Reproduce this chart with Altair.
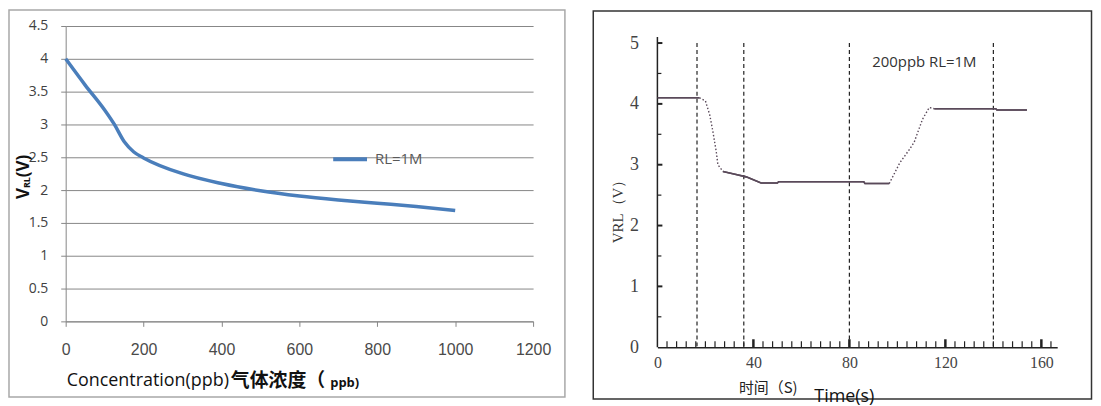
import altair as alt
import pandas as pd

# ---------------- Left panel data ----------------
conc_ppb = [0, 50, 100, 125, 150, 175, 200, 300, 400, 500, 600, 700, 800, 900, 1000]
vrl_left = [4.0, 3.6, 3.22, 3.0, 2.74, 2.58, 2.49, 2.25, 2.1, 1.99, 1.91, 1.85, 1.8, 1.75, 1.69]
left_series = "RL=1M"
left_x_ticks = [0, 200, 400, 600, 800, 1000, 1200]
left_y_ticks = [0, 0.5, 1, 1.5, 2, 2.5, 3, 3.5, 4, 4.5]

# ---------------- Right panel data ----------------
solid_a_t = [0, 17.5]
solid_a_v = [4.1, 4.1]
solid_b_t = [27.3, 32.8, 37, 43.2, 50, 50.5, 86, 86.5, 96.6]
solid_b_v = [2.89, 2.84, 2.8, 2.7, 2.7, 2.72, 2.72, 2.69, 2.69]
solid_c_t = [115.4, 141, 141.5, 154]
solid_c_v = [3.92, 3.92, 3.9, 3.9]
dot_a_t = [17.5, 20, 21.8, 23.1, 24.5, 25.2, 27.3]
dot_a_v = [4.1, 4.05, 3.82, 3.55, 3.22, 3.0, 2.89]
dot_b_t = [96.6, 101, 105, 107, 110.5, 113.3, 115.4]
dot_b_v = [2.69, 3.03, 3.25, 3.37, 3.75, 3.94, 3.92]
event_times = [16.5, 36, 80, 140]
event_top = 5
event_bottom = 0
axis_top = 5.1
right_x_labels = [0, 40, 80, 120, 160]
right_y_labels = [0, 1, 2, 3, 4, 5]
right_y_major = [1, 2, 3, 4, 5]
right_y_minor = [0.5, 1.5, 2.5, 3.5, 4.5]
right_x_minor = [4, 8, 12, 16, 20, 24, 28, 32, 36, 44, 48, 52, 56, 60, 64, 68, 72, 76,
                 84, 88, 92, 96, 100, 104, 108, 112, 116, 124, 128, 132, 136, 140,
                 144, 148, 152, 156, 164]
right_x_major = [40, 80, 120, 160]

SERIF = "Liberation Serif, DejaVu Serif, serif"
one = pd.DataFrame({"k": [0]})


def txt(s, x, y, **kw):
    return alt.Chart(one).mark_text(text=s, **kw).encode(x=alt.value(x), y=alt.value(y))


# ================= LEFT =================
LW, LH = 470, 297
xs_l = alt.Scale(domain=[0, 1200], nice=False)
ys_l = alt.Scale(domain=[0, 4.5], nice=False)

left_df = pd.DataFrame({"ppb": conc_ppb, "v": vrl_left, "s": [left_series] * len(conc_ppb)})

frame_l = alt.Chart(one).mark_rect(fill="white", fillOpacity=0, stroke="#a8a8a8", strokeWidth=1.5).encode(
    x=alt.value(-57), x2=alt.value(502), y=alt.value(-16), y2=alt.value(373))

line_l = alt.Chart(left_df).mark_line(interpolate="monotone", strokeWidth=3.5).encode(
    x=alt.X("ppb:Q", scale=xs_l, title=None,
            axis=alt.Axis(values=left_x_ticks, format="d", grid=False, domainColor="#868686",
                          tickColor="#868686", tickSize=5, labelPadding=15, labelFont="Liberation Sans",
                          labelFontSize=16, labelColor="#4a4a4a", labelFlush=False)),
    y=alt.Y("v:Q", scale=ys_l, title=None,
            axis=alt.Axis(values=left_y_ticks, format=".1~f", grid=True, gridColor="#868686",
                          gridWidth=1, domainColor="#868686", tickColor="#868686", tickSize=5,
                          labelPadding=13, labelFont="Open Sans", labelFontSize=14,
                          labelColor="#404040")),
    color=alt.Color("s:N", scale=alt.Scale(domain=[left_series], range=["#4A7EBB"]),
                    legend=alt.Legend(orient="none", legendX=267, legendY=115, title=None,
                                      symbolType="stroke", symbolStrokeWidth=4, symbolSize=1156,
                                      labelFont="Open Sans", labelFontSize=15, labelColor="#595959",
                                      labelOffset=6, padding=0)),
)

ytitle_l = [
    txt("V", -42, 174, angle=270, align="left", baseline="middle", fontSize=17, fontWeight="bold",
        font="Open Sans", color="#111"),
    txt("RL", -39, 163, angle=270, align="left", baseline="middle", fontSize=9, fontWeight="bold",
        font="Open Sans", color="#111"),
    txt("(V)", -42, 152, angle=270, align="left", baseline="middle", fontSize=17, fontWeight="bold",
        font="Open Sans", color="#111"),
]
xtitle_l = [
    txt("Concentration(ppb)", 1, 357, align="left", baseline="middle", fontSize=18,
        font="Open Sans", color="#111"),
    txt("气体浓度（", 166, 357, align="left", baseline="middle", fontSize=19, fontWeight="bold",
        font="Noto Sans CJK SC", color="#111"),
    txt("ppb)", 266, 359, align="left", baseline="middle", fontSize=13, fontWeight="bold",
        font="Open Sans", color="#111"),
]

left = alt.layer(frame_l, line_l, *ytitle_l, *xtitle_l).properties(width=LW, height=LH)

# ================= RIGHT =================
# plot origin shares the left panel's top; the y axis line itself stops at 5.1
RW, RH = 402, 323
xs_r = alt.Scale(domain=[0, 166.6], nice=False)
ys_r = alt.Scale(domain=[0, 5.28], nice=False)
ink = "#222222"
trace = "#5a4a5a"
OFF = 11

ax_x = alt.Axis(values=right_x_labels, grid=False, domainColor=ink, domainWidth=1.5,
                tickSize=0, labelPadding=7, labelFont=SERIF, labelFontSize=16,
                labelColor="#444444", labelFlush=False)
ax_y = alt.Axis(values=right_y_labels, grid=False, domain=False, tickSize=0, labelPadding=19,
                labelFont=SERIF, labelFontSize=18, labelColor="#444444")

solid_df = pd.concat([
    pd.DataFrame({"t": solid_a_t, "v": solid_a_v, "seg": "a"}),
    pd.DataFrame({"t": solid_b_t, "v": solid_b_v, "seg": "b"}),
    pd.DataFrame({"t": solid_c_t, "v": solid_c_v, "seg": "c"}),
], ignore_index=True)
dot_df = pd.concat([
    pd.DataFrame({"t": dot_a_t, "v": dot_a_v, "seg": "a"}),
    pd.DataFrame({"t": dot_b_t, "v": dot_b_v, "seg": "b"}),
], ignore_index=True)
event_df = pd.DataFrame({"t": event_times, "top": event_top, "bot": event_bottom})
yaxis_df = pd.DataFrame({"top": [axis_top], "bot": [0]})

frame_r = alt.Chart(one).mark_rect(fill="white", fillOpacity=0, stroke="#333333", strokeWidth=1.5).encode(
    x=alt.value(-64.5), x2=alt.value(436.5), y=alt.value(-15), y2=alt.value(375))

trace_r = alt.Chart(solid_df).mark_line(color=trace, strokeWidth=1.6).encode(
    x=alt.X("t:Q", scale=xs_r, title=None, axis=ax_x),
    y=alt.Y("v:Q", scale=ys_r, title=None, axis=ax_y),
    detail="seg:N",
)

dotted_r = alt.Chart(dot_df).mark_line(color=trace, strokeWidth=1.4, strokeDash=[1.5, 2]).encode(
    x=alt.X("t:Q", scale=xs_r, title=None, axis=ax_x),
    y=alt.Y("v:Q", scale=ys_r, title=None, axis=ax_y), detail="seg:N")

yaxis_line = alt.Chart(yaxis_df).mark_rule(color=ink, strokeWidth=1.5).encode(
    x=alt.value(0), y=alt.Y("top:Q", scale=ys_r, title=None, axis=ax_y), y2="bot:Q")

events = alt.Chart(event_df).mark_rule(color=ink, strokeWidth=1.2, strokeDash=[4, 3]).encode(
    x=alt.X("t:Q", scale=xs_r, title=None, axis=ax_x),
    y=alt.Y("top:Q", scale=ys_r, title=None, axis=ax_y), y2="bot:Q")

yt_major = alt.Chart(pd.DataFrame({"v": right_y_major})).mark_rule(color=ink, strokeWidth=2).encode(
    y=alt.Y("v:Q", scale=ys_r, title=None, axis=ax_y), x=alt.value(0), x2=alt.value(5))
yt_minor = alt.Chart(pd.DataFrame({"v": right_y_minor})).mark_rule(color=ink, strokeWidth=1.2).encode(
    y=alt.Y("v:Q", scale=ys_r, title=None, axis=ax_y), x=alt.value(0), x2=alt.value(4))
xt_minor = alt.Chart(pd.DataFrame({"t": right_x_minor})).mark_rule(color=ink, strokeWidth=1.2).encode(
    x=alt.X("t:Q", scale=xs_r, title=None, axis=ax_x), y=alt.value(RH), y2=alt.value(RH - 6))
xt_major = alt.Chart(pd.DataFrame({"t": right_x_major})).mark_rule(color=ink, strokeWidth=2.5).encode(
    x=alt.X("t:Q", scale=xs_r, title=None, axis=ax_x), y=alt.value(RH), y2=alt.value(RH - 8))

texts_r = [
    txt("200ppb RL=1M", 216, 25 + OFF, align="left", baseline="middle", fontSize=15,
        font="Open Sans", color="#333333"),
    txt("VRL（V）", -40, 172 + OFF, angle=270, align="center", baseline="middle", fontSize=15,
        font=SERIF, color="#333333"),
    txt("时间（S)", 82, 353 + OFF, align="left", baseline="middle", fontSize=15,
        font="Noto Sans CJK SC", color="#222222"),
    txt("Time(s)", 188, 362 + OFF, align="center", baseline="middle", fontSize=18,
        font="Open Sans", color="#111111"),
]

right = alt.layer(trace_r, frame_r, events, yt_major, yt_minor, xt_minor, xt_major, yaxis_line,
                  dotted_r, trace_r, *texts_r).properties(width=RW, height=RH)

chart = alt.hconcat(left, right, spacing=26).properties(padding=0).configure_view(strokeWidth=0)

chart.save("out.html", embed_options={"renderer": "svg", "actions": False})
